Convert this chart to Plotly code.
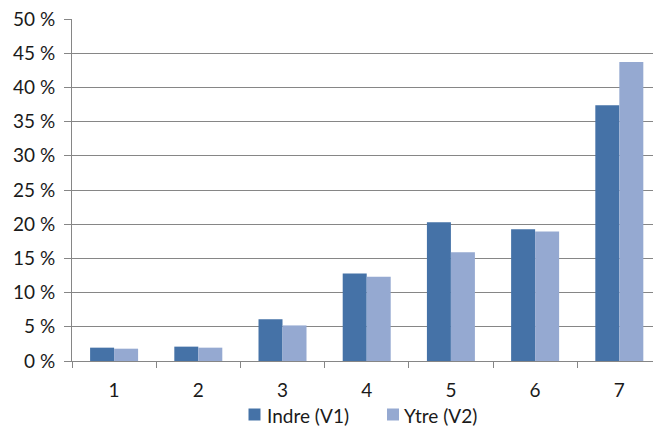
import plotly.graph_objects as go

# Categories and shares (percent) for the two zones
categories = ["1", "2", "3", "4", "5", "6", "7"]
indre_v1 = [1.95, 2.1, 6.1, 12.8, 20.3, 19.25, 37.4]
ytre_v2 = [1.8, 1.95, 5.2, 12.3, 15.9, 18.95, 43.7]
series_names = ["Indre (V1)", "Ytre (V2)"]
y_ticks = [0, 5, 10, 15, 20, 25, 30, 35, 40, 45, 50]
y_tick_text = [f"{v} %" for v in y_ticks]

FONT = "Lato, Carlito, Calibri, sans-serif"
GRID = "#868686"
COLORS = ["#4572A7", "#95A9D1"]

# Plot area geometry in pixels (used to place the hand-drawn legend)
W, H = 653, 427
ML, MR, MT, MB = 72, 0, 19, 66
PW, PH = W - ML - MR, H - MT - MB


def px_x(px):
    return (px - ML) / PW


def px_y(py):
    return (H - MB - py) / PH


fig = go.Figure()
for name, vals, col in zip(series_names, [indre_v1, ytre_v2], COLORS):
    fig.add_trace(go.Bar(name=name, x=categories, y=vals,
                         marker=dict(color=col, line=dict(width=0))))

fig.update_layout(
    width=W, height=H,
    margin=dict(l=ML, r=MR, t=MT, b=MB),
    paper_bgcolor="white", plot_bgcolor="white",
    barmode="group", bargap=0.43, bargroupgap=0,
    font=dict(family=FONT, size=19, color="#1a1a1a"),
    showlegend=False,
)
fig.update_xaxes(
    type="category", range=[-0.5, 6.4],
    showline=True, linecolor=GRID, linewidth=1,
    ticks="outside", tickson="boundaries", ticklen=6, tickcolor=GRID,
    ticklabelstandoff=12,
    showgrid=False, zeroline=False,
)
fig.update_yaxes(
    range=[0, 50], tickvals=y_ticks, ticktext=y_tick_text,
    showline=True, linecolor=GRID, linewidth=1,
    ticks="outside", ticklen=7, tickcolor=GRID,
    ticklabelstandoff=5,
    showgrid=True, gridcolor=GRID, gridwidth=1, zeroline=False,
)

# Legend below the plot: colour swatch + label for each series
legend_swatch_left = [248.5, 387]
legend_text_left = [265, 402]
for name, col, sx, tx in zip(series_names, COLORS, legend_swatch_left, legend_text_left):
    fig.add_shape(type="rect", xref="paper", yref="paper",
                  x0=px_x(sx), x1=px_x(sx + 12), y0=px_y(408.5), y1=px_y(420.5),
                  fillcolor=col, line=dict(width=0))
    fig.add_annotation(xref="paper", yref="paper", x=px_x(tx), y=px_y(415),
                       xanchor="left", yanchor="middle", text=name,
                       showarrow=False, font=dict(size=19))

fig.write_html("out.html")
